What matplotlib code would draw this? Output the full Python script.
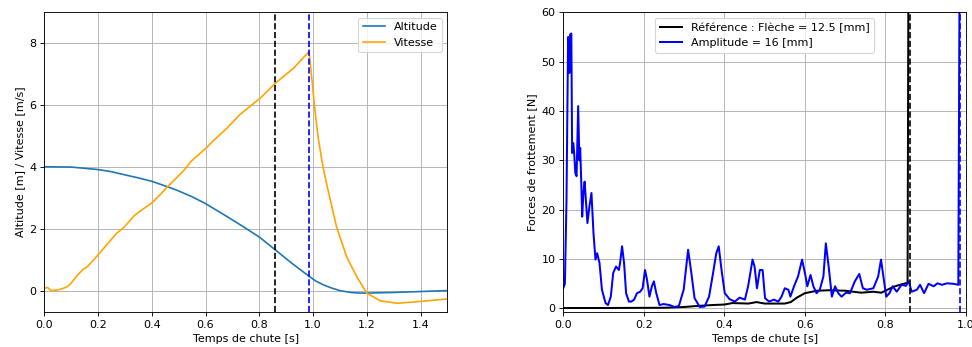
import matplotlib
matplotlib.use('Agg')
import matplotlib.pyplot as plt

# left plot : altitude / vitesse
t_alt = [0.0, 0.1, 0.2, 0.25, 0.309, 0.35, 0.4, 0.45, 0.494, 0.55, 0.6, 0.6875,
         0.741, 0.8, 0.859, 0.92, 0.984, 1.01, 1.04, 1.07, 1.1, 1.14, 1.175, 1.2,
         1.3, 1.4, 1.5]
altitude = [4.01, 4.0, 3.92, 3.85, 3.73, 3.65, 3.54, 3.39, 3.25, 3.04, 2.82, 2.36,
            2.07, 1.74, 1.33, 0.9, 0.48, 0.32, 0.19, 0.09, 0.01, -0.05, -0.07, -0.07,
            -0.05, -0.02, 0.01]

t_vit = [0.0, 0.012, 0.025, 0.05, 0.07, 0.086, 0.1, 0.123, 0.145, 0.16, 0.2,
         0.232, 0.269, 0.296, 0.337, 0.37, 0.4, 0.43, 0.457, 0.519, 0.548, 0.6, 0.63,
         0.66, 0.679, 0.728, 0.803, 0.86, 0.927, 0.985, 0.991, 1.007, 1.019, 1.035,
         1.05, 1.0875, 1.125, 1.1625, 1.2, 1.25, 1.3125, 1.4, 1.5]
vitesse = [0.09, 0.11, 0.01, 0.03, 0.08, 0.14, 0.25, 0.51, 0.7, 0.78, 1.16,
           1.49, 1.86, 2.05, 2.45, 2.66, 2.84, 3.1, 3.35, 3.89, 4.2, 4.6, 4.86,
           5.1, 5.25, 5.7, 6.22, 6.71, 7.19, 7.73, 7.24, 5.84, 4.95, 4.1,
           3.47, 2.07, 1.1, 0.46, -0.07, -0.32, -0.4, -0.34, -0.26]

# right plot : forces de frottement
t_ref = [0.0, 0.1, 0.25, 0.3, 0.33, 0.37, 0.4, 0.42, 0.46, 0.48, 0.5, 0.55, 0.565,
         0.58, 0.6, 0.63, 0.66, 0.7, 0.74, 0.77, 0.79, 0.82, 0.84, 0.855, 0.857]
f_ref = [0.1, 0.1, 0.15, 0.3, 0.5, 0.7, 0.8, 1.1, 1.0, 1.3, 1.0, 1.0, 1.3,
         2.2, 3.1, 3.6, 3.7, 3.6, 3.2, 3.4, 3.2, 4.4, 4.9, 5.2, 65.0]

t_amp = [0.0, 0.004, 0.008, 0.012, 0.015, 0.017, 0.02, 0.022, 0.025, 0.027, 0.03,
         0.033, 0.037, 0.04, 0.042, 0.045, 0.047, 0.05, 0.053, 0.056, 0.06, 0.065,
         0.07, 0.075, 0.08, 0.084, 0.09, 0.096, 0.105, 0.111, 0.118, 0.124, 0.131,
         0.138, 0.141, 0.146, 0.151, 0.156, 0.163, 0.169, 0.176, 0.183, 0.191, 0.197,
         0.203, 0.208, 0.214, 0.22, 0.225, 0.231, 0.239, 0.249, 0.264, 0.276, 0.287,
         0.299, 0.31, 0.318, 0.326, 0.339, 0.351, 0.362, 0.372, 0.38, 0.386, 0.393,
         0.401, 0.413, 0.426, 0.438, 0.451, 0.459, 0.47, 0.475, 0.481, 0.488, 0.495,
         0.501, 0.511, 0.523, 0.534, 0.542, 0.55, 0.559, 0.564, 0.573, 0.583, 0.593,
         0.6, 0.606, 0.614, 0.621, 0.629, 0.637, 0.646, 0.652, 0.659, 0.667, 0.675,
         0.683, 0.691, 0.702, 0.712, 0.724, 0.735, 0.744, 0.754, 0.77, 0.782, 0.789,
         0.795, 0.802, 0.81, 0.818, 0.828, 0.84, 0.851, 0.858, 0.865, 0.878, 0.886,
         0.896, 0.907, 0.92, 0.929, 0.94, 0.953, 0.969, 0.981, 0.984]
f_amp = [4.1, 5.0, 22.0, 55.0, 47.7, 55.5, 55.7, 31.5, 33.5, 31.5, 27.4,
         26.8, 41.0, 30.0, 32.5, 24.7, 18.6, 23.4, 25.7, 22.0, 17.3, 20.7,
         23.4, 15.3, 9.9, 11.2, 9.2, 3.8, 1.1, 0.7, 2.4, 7.2, 8.5,
         7.8, 9.2, 12.6, 9.2, 3.1, 1.4, 1.4, 1.8, 3.1, 3.4, 4.1,
         7.8, 5.8, 2.4, 4.5, 5.5, 3.1, 0.7, 0.9, 0.7, 0.3, 0.5,
         3.8, 11.9, 7.2, 2.1, 0.3, 0.4, 2.4, 7.2, 11.2, 12.6, 7.8,
         3.1, 1.9, 1.4, 2.2, 1.8, 4.5, 9.9, 8.5, 4.1, 7.8, 7.8,
         2.1, 1.4, 1.8, 1.4, 2.4, 4.1, 3.8, 2.4, 4.5, 6.5, 9.9,
         7.2, 4.5, 6.8, 4.5, 3.1, 3.8, 6.5, 13.2, 8.5, 2.4, 4.5,
         3.1, 2.4, 3.2, 3.1, 5.5, 7.0, 4.1, 3.8, 4.1, 6.5, 9.9,
         6.5, 2.4, 3.1, 4.5, 3.4, 4.8, 4.6, 5.5, 3.4, 3.8, 4.8,
         3.1, 5.0, 4.5, 5.1, 4.8, 5.1, 5.0, 4.8, 65.0]

t_ref_fin = 0.86
t_amp_fin = 0.985

# figure drawn at 80 dpi so texts come out a bit smaller, like the reference
fig = plt.figure(figsize=(12.15, 4.3375), dpi=80)
ax1 = fig.add_axes([0.0456, 0.101, 0.4147, 0.8636])
ax2 = fig.add_axes([0.5795, 0.101, 0.4143, 0.8636])

ax1.plot(t_alt, altitude, color='tab:blue', label='Altitude')
ax1.plot(t_vit, vitesse, color='orange', label='Vitesse')
ax1.axvline(t_ref_fin, color='k', linestyle='--')
ax1.axvline(t_amp_fin, color='b', linestyle='--')
ax1.set_xlim(0, 1.5)
ax1.set_ylim(-0.68, 9.0)
ax1.set_xlabel('Temps de chute [s]')
ax1.set_ylabel('Altitude [m] / Vitesse [m/s]')
ax1.grid(True)
ax1.legend(loc='upper right')

ax2.plot(t_ref, f_ref, color='k', lw=1.8, label='Référence : Flèche = 12.5 [mm]')
ax2.plot(t_amp, f_amp, color='b', lw=1.8, label='Amplitude = 16 [mm]')
ax2.axvline(t_ref_fin, color='k', linestyle='--')
ax2.axvline(t_amp_fin, color='b', linestyle='--')
ax2.set_xlim(0, 1.0)
ax2.set_ylim(-0.7, 60)
ax2.set_xlabel('Temps de chute [s]')
ax2.set_ylabel('Forces de frottement [N]')
ax2.grid(True)
ax2.legend(loc='upper center')

fig.savefig('out.png', dpi=80)
